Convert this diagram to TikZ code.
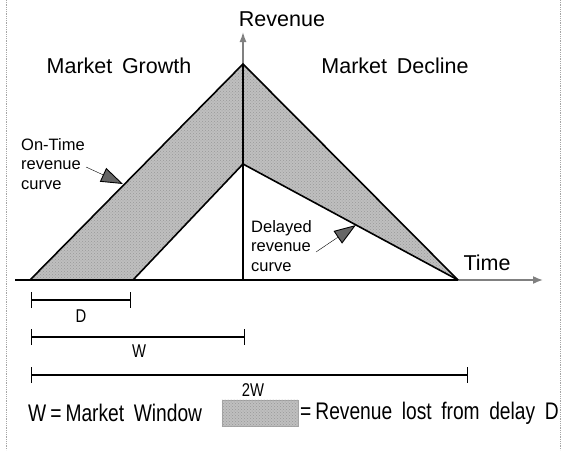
\documentclass[tikz,border=0pt]{standalone}
\usepackage{fontspec}
\setmainfont{Liberation Sans}
\newfontfamily\narrowsans[FakeStretch=0.8]{Liberation Sans}
\usetikzlibrary{arrows.meta,patterns,calc}
\begin{document}
\begin{tikzpicture}[x=1pt,y=-1pt,
  lbl/.style={inner sep=0pt,font=\fontsize{21.5}{25}\selectfont},
  small/.style={inner sep=0pt,font=\fontsize{16.5}{19.5}\selectfont,align=left},
  dimtxt/.style={inner sep=0pt,font=\narrowsans\fontsize{18.5}{21}\selectfont},
  keytxt/.style={inner sep=0pt,font=\narrowsans\fontsize{24}{27}\selectfont},
  curve/.style={line width=1.6pt,black},
  callout/.style={thin,-{Triangle[length=22pt,width=15pt,fill=black!60,line width=0.9pt]}},
  dimbar/.style={line width=1.2pt,{Bar[width=16pt,line width=1.2pt]}-{Bar[width=16pt,line width=1.2pt]}},
  lost/.style={fill=gray!50},
  stipple/.style={pattern=crosshatch dots,pattern color=gray!80},
  frame/.style={gray!70,line width=0.8pt,densely dotted}]
\useasboundingbox (0,0) rectangle (565,450);

% side rules of the frame
\draw[frame] (6,0) -- (6,450);
\draw[frame] (560,0) -- (560,450);

% key points of the two revenue curves
\coordinate (o0) at (30,280);
\coordinate (pk) at (243,64);
\coordinate (end) at (458,280);
\coordinate (d0) at (133,280);
\coordinate (dp) at (243,164);
\coordinate (org) at (243,280);
\coordinate (ax0) at (15,280);
\coordinate (axT) at (543,280);
\coordinate (axR) at (243,32);

% revenue lost from the delay
\fill[lost] (o0) -- (pk) -- (end) -- (dp) -- (d0) -- cycle;
\fill[stipple] (o0) -- (pk) -- (end) -- (dp) -- (d0) -- cycle;

% axes
\draw[line width=2pt] (ax0) -- (end);
\draw[line width=1.6pt,gray,-{Latex[length=10pt,width=8pt]}] (end) -- (axT);
\draw[line width=1.4pt] (org) -- (pk);
\draw[line width=1.4pt,gray,-{Latex[length=10pt,width=7pt]}] (pk) -- (axR);

% curves
\draw[curve] (o0) -- (pk) -- (end);
\draw[curve] (d0) -- (dp) -- (end);

% axis and region labels
\node[lbl] (rev) at (282,19) {Revenue};
\node[lbl] (grow) at (119,66) {Market\hspace{0.45em}Growth};
\node[lbl] (decl) at (395,66) {Market\hspace{0.45em}Decline};
\node[lbl] (time) at (487,263) {Time};

% callouts
\node[small,anchor=west] (ontime) at (21,164) {On-Time\\revenue\\curve};
\node[small,anchor=west] (delayed) at (251,246) {Delayed\\revenue\\curve};
\coordinate (ontimeA) at (86,167);
\coordinate (ontimeB) at (123,184);
\coordinate (delA) at (316,252);
\coordinate (delB) at (356,225);
\draw[callout] (ontimeA) -- (ontimeB);
\draw[callout] (delA) -- (delB);

% dimension bars
\coordinate (b1) at (31,300);  \coordinate (e1) at (131,300);
\coordinate (b2) at (31,337);  \coordinate (e2) at (245,337);
\coordinate (b3) at (31,375);  \coordinate (e3) at (468,375);
\draw[dimbar] (b1) -- (e1);
\draw[dimbar] (b2) -- (e2);
\draw[dimbar] (b3) -- (e3);
\node[dimtxt] (dD) at (81,316) {D};
\node[dimtxt] (dW) at (139,351) {W};
\node[dimtxt] (d2W) at (253,390) {2W};

% legend
\node[keytxt,anchor=west] (wdef) at (28,413) {W\,=\,Market\hspace{0.4em}Window};
\node[lost,draw=gray!70,minimum width=76pt,minimum height=26pt,inner sep=0pt] (key) at (260,413) {};
\fill[stipple] (key.south west) rectangle (key.north east);
\node[keytxt,anchor=west] (ldef) at (300,413) {=\,Revenue\hspace{0.4em}lost\hspace{0.4em}from\hspace{0.4em}delay\hspace{0.4em}D};
\end{tikzpicture}
\end{document}
